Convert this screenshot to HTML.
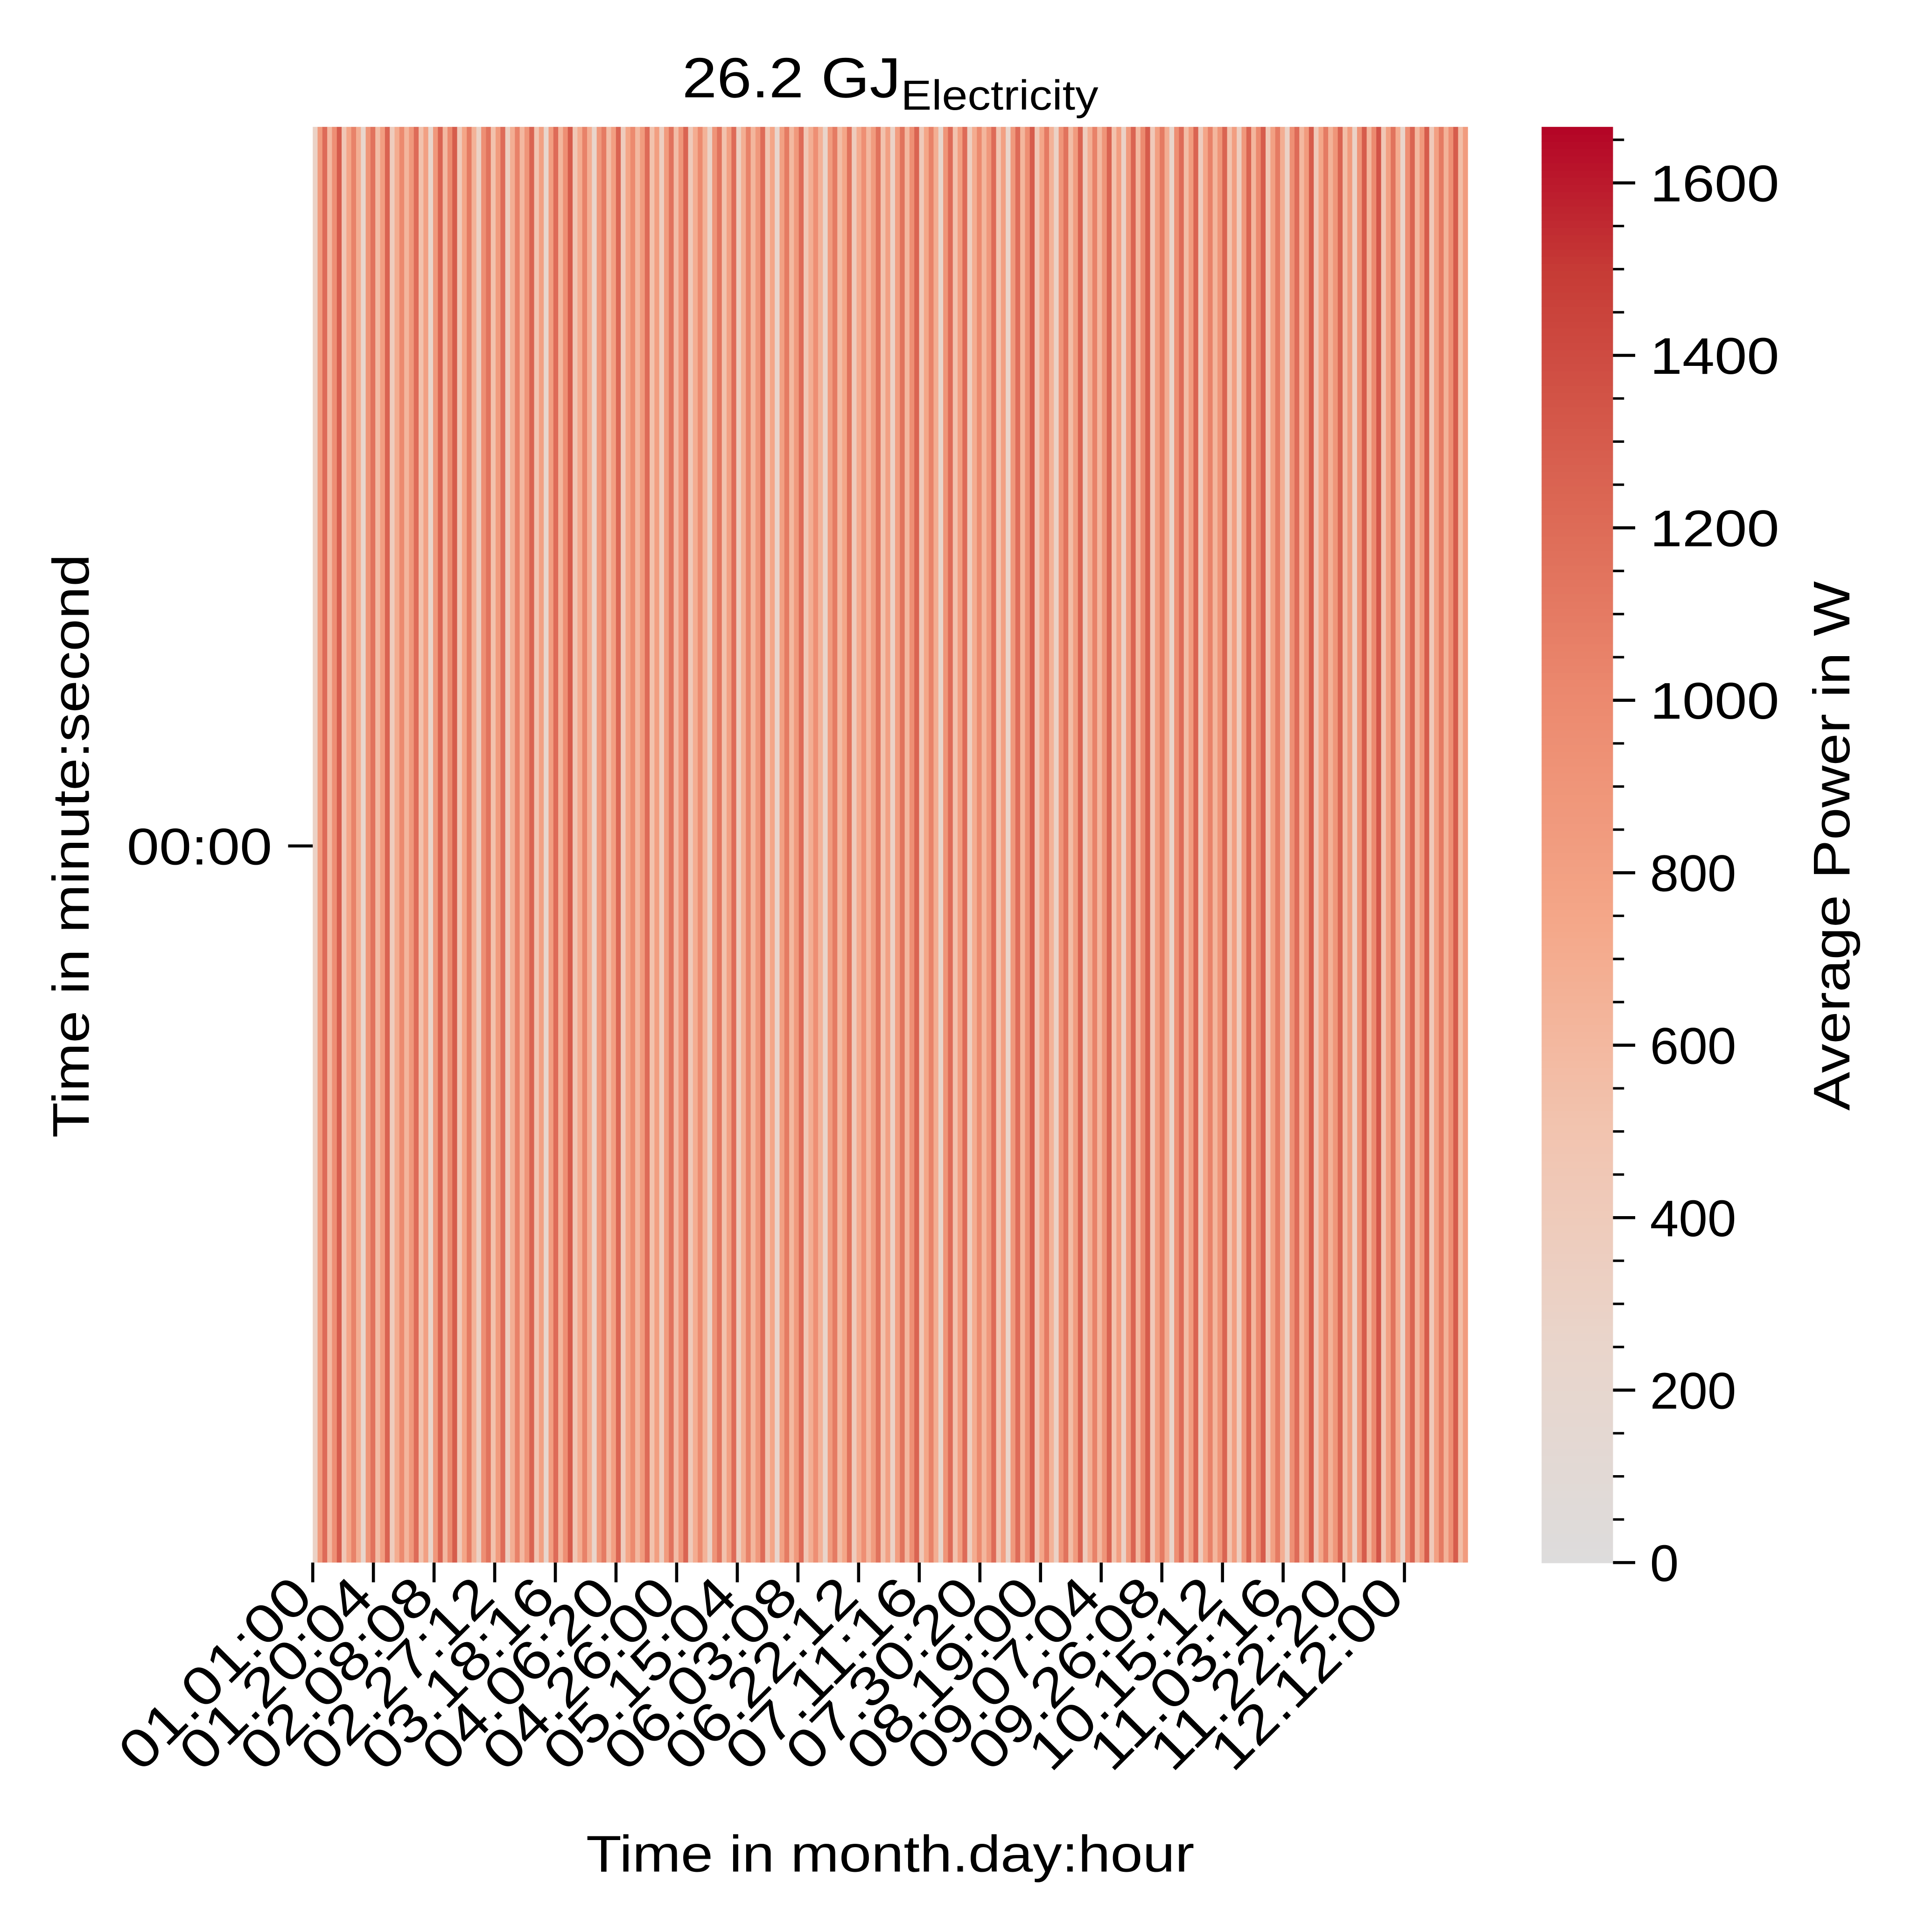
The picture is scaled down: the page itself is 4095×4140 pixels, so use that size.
<!DOCTYPE html>
<html><head><meta charset="utf-8"><style>
html,body{margin:0;padding:0;background:#fff;}
svg{display:block;font-family:"Liberation Sans",sans-serif;}
</style></head><body>
<svg id="chart" width="4095" height="4140" viewBox="0 0 1552 1569" xmlns="http://www.w3.org/2000/svg">
<rect width="1552" height="1569" fill="#fff"/>
<text x="723" y="79" font-size="46" text-anchor="middle" textLength="338" lengthAdjust="spacingAndGlyphs">26.2 GJ<tspan font-size="34" dy="10">Electricity</tspan></text>
<g id="cells"></g>
<g id="cbar"></g>
<g id="xaxis"></g>
<line x1="234" y1="687" x2="254" y2="687" stroke="#000" stroke-width="2.5"/>
<text x="221" y="702" font-size="42" text-anchor="end" textLength="118" lengthAdjust="spacingAndGlyphs">00:00</text>
<text transform="translate(72,687) rotate(-90)" font-size="42" text-anchor="middle" textLength="474" lengthAdjust="spacingAndGlyphs">Time in minute:second</text>
<text x="723" y="1520" font-size="42" text-anchor="middle" textLength="494" lengthAdjust="spacingAndGlyphs">Time in month.day:hour</text>
<text transform="translate(1502,687) rotate(-90)" font-size="42" text-anchor="middle" textLength="430" lengthAdjust="spacingAndGlyphs">Average Power in W</text>
</svg>
<script>
const values = [
 300,850,1200,600,950,1300,450,750,1050,680,220,900,1150,560,820,1250,380,700,1000,620,870,1200,520,800,
 250,870,1250,600,1000,1300,420,750,1100,650,300,950,1150,520,850,1200,350,680,1050,600,900,1250,480,800,
 220,820,1200,620,950,1300,450,700,1050,680,250,870,1100,560,820,1250,380,750,1000,600,850,1200,520,820,
 350,850,1150,560,900,1250,420,700,1000,650,300,900,1150,520,800,1200,350,680,1050,620,870,1200,480,750,
 220,800,1100,600,870,1200,450,680,950,650,250,850,1100,560,750,1150,380,700,950,600,850,1150,520,800,
 300,820,1150,600,950,1250,420,750,1050,680,220,900,1200,520,820,1200,350,700,1000,620,870,1200,480,800,
 250,870,1200,620,950,1300,450,750,1100,650,300,900,1150,560,850,1250,380,680,1050,600,900,1250,520,820,
 300,850,1250,600,1000,1300,420,800,1100,680,250,950,1200,560,850,1250,380,750,1050,620,900,1250,520,820,
 350,870,1250,620,1000,1300,450,800,1100,680,300,950,1200,600,850,1300,420,750,1100,650,900,1250,560,850,
 300,900,1300,620,1000,1350,450,800,1150,700,250,950,1250,600,870,1300,420,800,1100,650,950,1300,560,850];
const xTickLabels = ["01.01:00","01.20:04","02.08:08","02.27:12","03.18:16","04.06:20","04.26:00","05.15:04","06.03:08","06.22:12","07.11:16","07.30:20","08.19:00","09.07:04","09.26:08","10.15:12","11.03:16","11.22:20","12.12:00"];
const xTickHours = [0,460,920,1380,1840,2300,2760,3220,3680,4140,4600,5060,5520,5980,6440,6900,7360,7820,8280];
const cbarTicks = [0,200,400,600,800,1000,1200,1400,1600];
const totalHours = 8760, vmin = 0, vmax = 1665;

const NS = "http://www.w3.org/2000/svg";
const X0=254, X1=1192, Y0=103, Y1=1269, CX0=1252, CX1=1310;
const stops=[[0,"#dddcdc"],[0.15,"#e9d5cb"],[0.3,"#f2c4b0"],[0.45,"#f4a688"],[0.6,"#ec8a6f"],[0.75,"#da6452"],[0.9,"#c63b36"],[1,"#b40426"]];
function hex(c){return [1,3,5].map(i=>parseInt(c.substr(i,2),16));}
function cmap(v){let t=Math.max(0,Math.min(1,(v-vmin)/(vmax-vmin)));
 for(let i=1;i<stops.length;i++){if(t<=stops[i][0]){const a=hex(stops[i-1][1]),b=hex(stops[i][1]);const f=(t-stops[i-1][0])/(stops[i][0]-stops[i-1][0]);
 return "rgb("+a.map((x,k)=>Math.round(x+(b[k]-x)*f)).join(",")+")";}}return stops[stops.length-1][1];}
const xScale=h=>X0+(X1-X0)*h/totalHours;
const cScale=v=>Y1-(Y1-Y0)*(v-vmin)/(vmax-vmin);
function mk(tag,attrs,parent){const e=document.createElementNS(NS,tag);for(const k in attrs)e.setAttribute(k,attrs[k]);parent.appendChild(e);return e;}

const cells=document.getElementById("cells");
const w=(X1-X0)/values.length;
values.forEach((v,i)=>{
 const r=mk("rect",{x:X0+i*w,y:Y0,width:w+0.2,height:Y1-Y0,fill:cmap(v)},cells);
 
 
});

const cb=document.getElementById("cbar");
for(let i=0;i<200;i++){const v0=vmin+(vmax-vmin)*i/200,v1=vmin+(vmax-vmin)*(i+1)/200;
 const r=mk("rect",{x:CX0,y:cScale(v1),width:CX1-CX0,height:cScale(v0)-cScale(v1)+0.5,fill:cmap((v0+v1)/2)},cb);
 
 
}
for(let v=50;v<vmax;v+=50){ if(v%200===0) continue;
 const t=mk("line",{x1:CX1,x2:CX1+9,y1:cScale(v),y2:cScale(v),stroke:"#000","stroke-width":2},cb);
 
 
}
cbarTicks.forEach(v=>{
 const t=mk("line",{x1:CX1,x2:CX1+18,y1:cScale(v),y2:cScale(v),stroke:"#000","stroke-width":2.5},cb);
 
 
 const l=mk("text",{x:CX1+30,y:cScale(v)+15,"font-size":42},cb);
 l.textContent=v;
 
 
 if(String(v).length===4){l.setAttribute('textLength','105');l.setAttribute('lengthAdjust','spacingAndGlyphs');}
});

const xa=document.getElementById("xaxis");
xTickHours.forEach((h,i)=>{
 const x=xScale(h);
 const t=mk("line",{x1:x,x2:x,y1:Y1,y2:Y1+16,stroke:"#000","stroke-width":2.5},xa);
 
 
 const l=mk("text",{transform:"translate("+(x+2)+","+(Y1+30)+") rotate(-45)","font-size":44,"text-anchor":"end",textLength:"200",lengthAdjust:"spacingAndGlyphs"},xa);
 l.textContent=xTickLabels[i];
 
 
});
</script>
</body></html>
